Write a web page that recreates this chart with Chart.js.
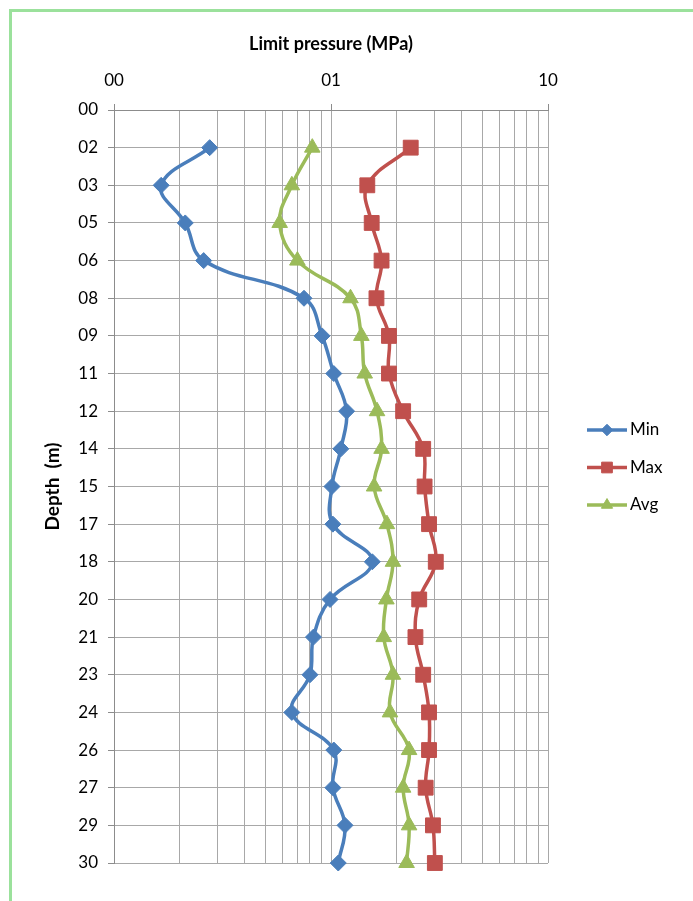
<!DOCTYPE html>
<html>
<head>
<meta charset="utf-8">
<script src="https://cdn.jsdelivr.net/npm/chart.js@4/dist/chart.umd.min.js"></script>
<style>
  html, body { margin: 0; padding: 0; background: #fff; }
  #wrap { position: relative; width: 693px; height: 901px; overflow: hidden; }
  #frame { position: absolute; left: 9px; top: 9px; width: 720px; height: 940px;
           border: 3px solid #9be19c; box-sizing: border-box; }
  canvas { position: absolute; left: 0; top: 0; }
</style>
</head>
<body>
<div id="wrap">
  <div id="frame"></div>
  <canvas id="c" width="693" height="901"></canvas>
</div>
<script>
// Depth of each test (m) and measured limit pressures (MPa)
const depths = [1.5, 3, 4.5, 6, 7.5, 9, 10.5, 12, 13.5, 15, 16.5, 18, 19.5, 21, 22.5, 24, 25.5, 27, 28.5, 30];
const minVals = [0.276, 0.165, 0.213, 0.259, 0.751, 0.91, 1.03, 1.18, 1.11, 1.01, 1.02, 1.55, 0.99, 0.83, 0.80, 0.66, 1.03, 1.02, 1.16, 1.08];
const maxVals = [2.33, 1.47, 1.54, 1.71, 1.62, 1.85, 1.85, 2.15, 2.66, 2.70, 2.83, 3.04, 2.55, 2.45, 2.66, 2.83, 2.83, 2.73, 2.95, 3.01];
const avgVals = [0.82, 0.66, 0.58, 0.70, 1.23, 1.38, 1.43, 1.63, 1.71, 1.58, 1.81, 1.93, 1.80, 1.75, 1.93, 1.87, 2.29, 2.15, 2.29, 2.23];

// Axis labels
const depthStep = 1.5;
const depthTickLabels = ["00", "02", "03", "05", "06", "08", "09", "11", "12", "14", "15", "17", "18", "20", "21", "23", "24", "26", "27", "29", "30"];
const pressureTickValues = [0.1, 1, 10];
const pressureTickLabels = ["00", "01", "10"];

const FONT = "Lato, 'Open Sans', sans-serif";
const GRID = '#a8a8a8';
const AXIS = '#8c8c8c';

function series(label, vals, color, style, radius) {
  return {
    label,
    data: vals.map((v, i) => ({ x: v, y: depths[i] })),
    borderColor: color,
    backgroundColor: color,
    borderWidth: 3.5,
    tension: 0.4,
    pointStyle: style,
    pointRadius: radius,
    pointHoverRadius: radius,
    pointBackgroundColor: color,
    pointBorderColor: color,
    pointBorderWidth: 1,
    clip: false
  };
}

// Legend drawn as a short line with the series marker in its middle
const lineLegend = {
  id: 'lineLegend',
  afterDraw(chart) {
    const ctx = chart.ctx;
    const area = chart.chartArea;
    const x0 = area.right + 39;
    const len = 40;
    const gap = 37.5;
    const yStart = area.top + 320;
    ctx.save();
    chart.data.datasets.forEach((ds, i) => {
      const y = yStart + i * gap;
      ctx.strokeStyle = ds.borderColor;
      ctx.lineWidth = 3.5;
      ctx.beginPath();
      ctx.moveTo(x0, y);
      ctx.lineTo(x0 + len, y);
      ctx.stroke();
      ctx.fillStyle = ds.pointBackgroundColor;
      ctx.strokeStyle = ds.pointBorderColor;
      ctx.lineWidth = 1;
      Chart.helpers.drawPoint(ctx, {
        pointStyle: ds.pointStyle,
        radius: ds.pointRadius * 0.72,
        rotation: 0,
        borderWidth: 1
      }, x0 + len / 2, y);
      ctx.fillStyle = '#000';
      ctx.font = '17px ' + FONT;
      ctx.textAlign = 'left';
      ctx.textBaseline = 'middle';
      ctx.fillText(ds.label, x0 + len + 3, y);
    });
    ctx.restore();
  }
};

new Chart(document.getElementById('c'), {
  type: 'line',
  data: {
    datasets: [
      series('Min', minVals, '#4a7ebb', 'rectRot', 8),
      series('Max', maxVals, '#c0504d', 'rect', 10.5),
      series('Avg', avgVals, '#9bbb59', 'triangle', 9)
    ]
  },
  options: {
    responsive: false,
    animation: false,
    events: [],
    layout: { padding: { left: 0, top: 0, right: 145, bottom: 38 } },
    plugins: { legend: { display: false }, tooltip: { enabled: false } },
    scales: {
      x: {
        type: 'logarithmic',
        position: 'top',
        min: 0.1,
        max: 10,
        afterFit(scale) { scale.height = 110; },
        afterBuildTicks(scale) {
          const ticks = [];
          for (let e = -1; e < 1; e++) {
            for (let m = 1; m < 10; m++) ticks.push({ value: +(m * Math.pow(10, e)).toFixed(3) });
          }
          ticks.push({ value: 10 });
          scale.ticks = ticks;
        },
        ticks: {
          autoSkip: false,
          maxRotation: 0,
          padding: 13,
          color: '#000',
          font: { family: FONT, size: 17 },
          callback(value) {
            const k = pressureTickValues.findIndex(v => Math.abs(v - value) < 1e-9);
            return k >= 0 ? pressureTickLabels[k] : '';
          }
        },
        grid: {
          color: GRID,
          lineWidth: 1,
          drawTicks: true,
          tickLength: 6,
          tickColor(ctx) {
            const v = ctx.tick ? ctx.tick.value : 0;
            return pressureTickValues.some(p => Math.abs(p - v) < 1e-9) ? AXIS : 'rgba(0,0,0,0)';
          }
        },
        border: { color: AXIS, width: 1 },
        title: {
          display: true,
          text: 'Limit pressure (MPa)',
          color: '#000',
          font: { family: FONT, size: 18, weight: 'bold' },
          padding: { top: 33, bottom: 0 }
        }
      },
      y: {
        type: 'linear',
        reverse: true,
        min: 0,
        max: 30,
        afterFit(scale) { scale.width = 114; },
        ticks: {
          stepSize: depthStep,
          autoSkip: false,
          padding: 10,
          color: '#000',
          font: { family: FONT, size: 17 },
          callback(value) { return depthTickLabels[Math.round(value / depthStep)]; }
        },
        grid: { color: GRID, lineWidth: 1, drawTicks: true, tickLength: 6, tickColor: AXIS },
        border: { color: AXIS, width: 1 },
        title: {
          display: true,
          text: 'Depth  (m)',
          color: '#000',
          font: { family: FONT, size: 19, weight: 'bold' },
          padding: { top: 41, bottom: 0 }
        }
      }
    }
  },
  plugins: [lineLegend]
});
</script>
</body>
</html>
